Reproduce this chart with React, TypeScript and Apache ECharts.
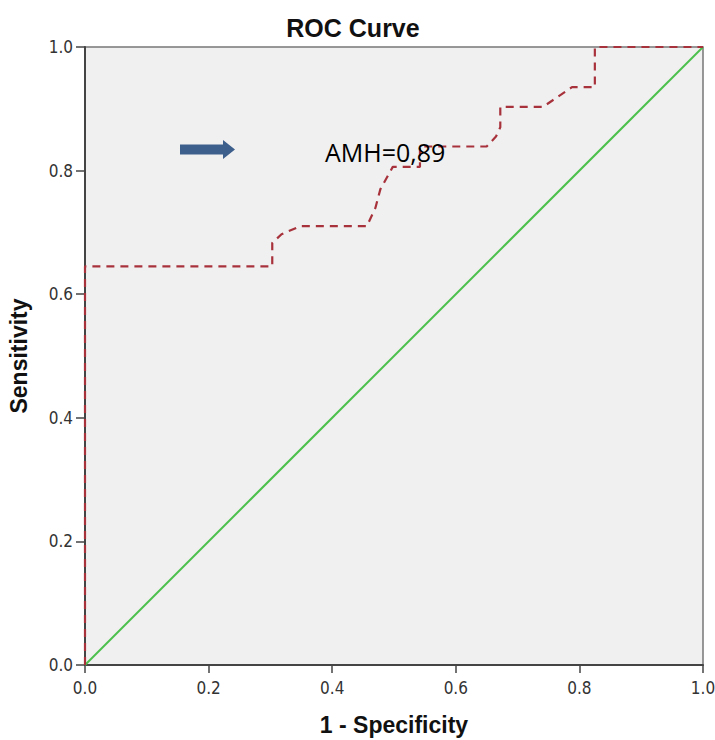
import React, { useEffect, useRef } from "react";
import * as echarts from "echarts";

// ROC curve points: [1 - specificity, sensitivity]
const rocX = [0, 0, 0.303, 0.303, 0.318, 0.348, 0.456, 0.47, 0.478, 0.498, 0.542, 0.542, 0.65, 0.665, 0.672, 0.672, 0.741, 0.788, 0.825, 0.825, 1];
const rocY = [0, 0.645, 0.645, 0.683, 0.697, 0.71, 0.71, 0.74, 0.77, 0.806, 0.806, 0.839, 0.839, 0.855, 0.87, 0.903, 0.903, 0.935, 0.935, 1, 1];
const refX = [0, 1];
const refY = [0, 1];
const axisTicks = [0, 0.2, 0.4, 0.6, 0.8, 1.0];
const titleText = "ROC Curve";
const xName = "1 - Specificity";
const yName = "Sensitivity";
const annotation = "AMH=0,89";

export default function App() {
  const ref = useRef<HTMLDivElement>(null);
  useEffect(() => {
    if (!ref.current) return;
    const chart = echarts.init(ref.current, null, { renderer: "svg" });
    const labelFont = "'Liberation Sans Narrow', 'DejaVu Sans Condensed', 'Liberation Sans', sans-serif";
    const boldFont = "'Liberation Sans', Arial, sans-serif";
    chart.setOption({
      animation: false,
      backgroundColor: "#ffffff",
      title: {
        text: titleText,
        left: 348,
        top: 10,
        textAlign: "center",
        textStyle: { fontFamily: boldFont, fontWeight: "bold", fontSize: 25, color: "#111" },
      },
      grid: {
        left: 85,
        right: 12,
        top: 47,
        bottom: 75,
        containLabel: false,
        outerBoundsMode: "none",
        show: true,
        backgroundColor: "#f0f0f0",
        borderColor: "#777",
        borderWidth: 1.5,
      },
      xAxis: {
        type: "value",
        min: axisTicks[0],
        max: axisTicks[axisTicks.length - 1],
        interval: 0.2,
        name: xName,
        nameLocation: "middle",
        nameGap: 48,
        nameTextStyle: { fontFamily: boldFont, fontWeight: "bold", fontSize: 23, color: "#111" },
        axisLine: { show: true, onZero: false, lineStyle: { color: "#444", width: 2 } },
        axisTick: { show: true, length: 8, lineStyle: { color: "#444", width: 1.5 } },
        axisLabel: {
          fontFamily: labelFont,
          fontSize: 17,
          color: "#333",
          margin: 14,
          formatter: (v: number) => v.toFixed(1),
        },
        splitLine: { show: false },
      },
      yAxis: {
        type: "value",
        min: axisTicks[0],
        max: axisTicks[axisTicks.length - 1],
        interval: 0.2,
        name: yName,
        nameLocation: "middle",
        nameGap: 55,
        nameTextStyle: { fontFamily: boldFont, fontWeight: "bold", fontSize: 23, color: "#111" },
        axisLine: { show: true, onZero: false, lineStyle: { color: "#444", width: 2 } },
        axisTick: { show: true, length: 9, lineStyle: { color: "#444", width: 1.5 } },
        axisLabel: {
          fontFamily: labelFont,
          fontSize: 17,
          color: "#333",
          margin: 12,
          formatter: (v: number) => v.toFixed(1),
        },
        splitLine: { show: false },
      },
      series: [
        {
          name: "Reference",
          type: "line",
          data: refX.map((x, i) => [x, refY[i]]),
          symbol: "none",
          lineStyle: { color: "#4cc04c", width: 2 },
          z: 2,
        },
        {
          name: "AMH",
          type: "line",
          data: rocX.map((x, i) => [x, rocY[i]]),
          symbol: "none",
          lineStyle: { color: "#a8323c", width: 2.2, type: [8, 6] },
          z: 3,
        },
      ],
      graphic: [
        {
          type: "polygon",
          shape: {
            points: [
              [180, 144.5],
              [223, 144.5],
              [223, 140],
              [235, 149.5],
              [223, 159],
              [223, 154.5],
              [180, 154.5],
            ],
          },
          style: { fill: "#3d5f8c" },
          z: 10,
        },
        {
          type: "text",
          x: 325,
          y: 152,
          style: {
            text: annotation,
            font: "25px 'Open Sans', 'Noto Sans', sans-serif",
            fill: "#000",
            verticalAlign: "middle",
          },
          z: 10,
        },
      ],
    });
    return () => chart.dispose();
  }, []);
  return (
    <div
      ref={ref}
      style={{ position: "fixed", left: 0, top: 0, width: 715, height: 740, background: "#fff" }}
    />
  );
}
